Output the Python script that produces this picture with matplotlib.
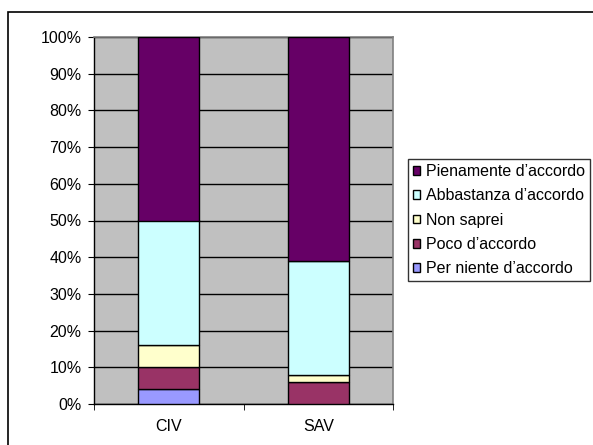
import matplotlib.pyplot as plt
from matplotlib.patches import Rectangle
from matplotlib.ticker import FixedLocator

plt.rcParams['font.family'] = ['Liberation Sans', 'DejaVu Sans']

# data (percent)
groups = ['CIV', 'SAV']
per_niente = [4, 0]
poco = [6, 6]
non_saprei = [6, 2]
abbastanza = [34, 31]
pienamente = [50, 61]

series = [
    ('Per niente d\u2019accordo', per_niente, '#9999FF'),
    ('Poco d\u2019accordo', poco, '#993366'),
    ('Non saprei', non_saprei, '#FFFFCC'),
    ('Abbastanza d\u2019accordo', abbastanza, '#CCFFFF'),
    ('Pienamente d\u2019accordo', pienamente, '#660066'),
]

fs = 11.5
fig = plt.figure(figsize=(5.93, 4.45), dpi=100)
W, H = 593, 445
ax = fig.add_axes([94 / W, 1 - 404 / H, (393 - 94) / W, (404 - 37) / H])
ax.set_facecolor('#C0C0C0')

# outer frame of the chart
fig.patches.append(Rectangle((8 / W, -0.05), 1.2, 1 - 12.5 / H + 0.05,
                             transform=fig.transFigure, fill=False,
                             edgecolor='black', linewidth=1.2))

x = list(range(len(groups)))
bottom = [0] * len(groups)
handles = []
for name, vals, col in series:
    b = ax.bar(x, vals, bottom=bottom, width=0.41, color=col,
               edgecolor='black', linewidth=1.0, label=name, zorder=3)
    handles.append(b)
    bottom = [bo + v for bo, v in zip(bottom, vals)]

ax.set_xlim(-0.5, 1.5)
ax.set_ylim(0, 100)
ax.set_yticks(range(0, 101, 10))
ax.set_yticklabels([f'{v}%' for v in range(0, 101, 10)], fontsize=fs)
ax.yaxis.grid(True, color='black', linewidth=1.0, zorder=1)
ax.set_axisbelow(True)

ax.set_xticks(x)
ax.set_xticklabels(groups, fontsize=fs)
ax.tick_params(axis='x', length=0, pad=11)
ax.xaxis.set_minor_locator(FixedLocator([-0.5, 0.5, 1.5]))
ax.tick_params(axis='x', which='minor', length=4, direction='out', color='black')
ax.tick_params(axis='y', length=4, direction='out', pad=5)

for s in ['top', 'right']:
    ax.spines[s].set_color('#808080')
    ax.spines[s].set_linewidth(1.2)
for s in ['left', 'bottom']:
    ax.spines[s].set_color('black')
    ax.spines[s].set_linewidth(1.0)

leg = fig.legend(handles[::-1], [s[0] for s in series][::-1],
                 loc='upper left', bbox_to_anchor=(408 / W, 1 - 159 / H),
                 fontsize=fs, frameon=True, fancybox=False, edgecolor='black',
                 handlelength=0.45, handleheight=0.45, handletextpad=0.35,
                 labelspacing=0.58, borderpad=0.32, borderaxespad=0)
leg.get_frame().set_linewidth(1.0)

fig.savefig('out.png', dpi=100)
